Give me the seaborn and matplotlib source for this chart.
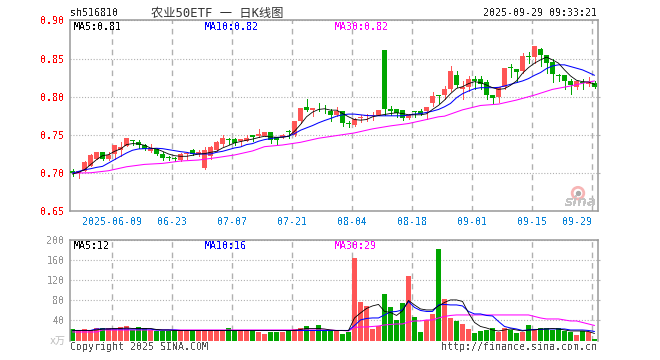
# %%
import matplotlib.pyplot as plt
import numpy as np
import pandas as pd
import seaborn as sns

# %% candles
opens = [.7031, .7000, .7031, .7097, .7184, .7281, .7184, .7246, .7307, .7360,
         .7426, .7413, .7369, .7294, .7316, .7255, .7198, .7184, .7167, .7246,
         .7307, .7246, .7070, .7228, .7307, .7386, .7430, .7452, .7421, .7426,
         .7505, .7492, .7491, .7543, .7473, .7469, .7539, .7504, .7684, .7860,
         .7820, .7846, .7846, .7807, .7754, .7807, .7649, .7636, .7720, .7745,
         .7750, .7763, .8610, .7842, .7833, .7820, .7719, .7802, .7807, .7807,
         .7912, .8009, .8017, .8096, .8280, .8105, .8122, .8237, .8237, .8197,
         .8017, .8000, .8131, .8373, .8360, .8333, .8518, .8522, .8623, .8544,
         .8460, .8276, .8280, .8201, .8122, .8175, .8171, .8184]
closes = [.7000, .7031, .7149, .7233, .7281, .7184, .7241, .7364, .7342, .7457,
          .7426, .7373, .7320, .7329, .7255, .7202, .7198, .7184, .7255, .7263,
          .7255, .7281, .7307, .7347, .7413, .7457, .7430, .7395, .7452, .7461,
          .7470, .7518, .7543, .7429, .7438, .7495, .7539, .7688, .7855, .7820,
          .7855, .7846, .7846, .7754, .7816, .7653, .7649, .7710, .7723, .7759,
          .7767, .7820, .7833, .7811, .7789, .7719, .7763, .7802, .7776, .7860,
          .8009, .8009, .8096, .8333, .8149, .8131, .8237, .8201, .8162, .8017,
          .7978, .8122, .8373, .8373, .8324, .8531, .8518, .8662, .8544, .8447,
          .8298, .8276, .8201, .8149, .8201, .8175, .8197, .8122]
highs = [.7053, .7031, .7158, .7246, .7281, .7281, .7281, .7373, .7404, .7465,
         .7426, .7439, .7386, .7386, .7329, .7281, .7228, .7211, .7263, .7277,
         .7316, .7307, .7342, .7360, .7421, .7500, .7465, .7461, .7452, .7505,
         .7505, .7571, .7543, .7543, .7473, .7513, .7561, .7688, .7855, .7965,
         .7855, .7912, .7886, .7833, .7860, .7807, .7688, .7723, .7754, .7780,
         .7798, .7820, .8610, .7877, .7833, .7820, .7772, .7811, .7833, .7860,
         .8061, .8018, .8140, .8399, .8333, .8201, .8272, .8272, .8272, .8215,
         .8017, .8131, .8373, .8425, .8360, .8570, .8579, .8662, .8640, .8544,
         .8500, .8294, .8280, .8237, .8201, .8237, .8263, .8206]
lows = [.6965, .6939, .7022, .7088, .7184, .7176, .7176, .7184, .7220, .7351,
        .7373, .7334, .7307, .7281, .7237, .7176, .7176, .7154, .7158, .7184,
        .7237, .7228, .7057, .7184, .7285, .7351, .7386, .7369, .7360, .7417,
        .7417, .7474, .7482, .7394, .7385, .7456, .7460, .7482, .7658, .7807,
        .7745, .7807, .7789, .7688, .7745, .7622, .7601, .7622, .7675, .7688,
        .7701, .7754, .7767, .7767, .7737, .7701, .7710, .7737, .7754, .7710,
        .7877, .7912, .7964, .8074, .8131, .7973, .8074, .8096, .8096, .7973,
        .7899, .7929, .8105, .8263, .8193, .8316, .8447, .8447, .8403, .8316,
        .8193, .8201, .8105, .8035, .8096, .8105, .8140, .8114]

ma5 = [.6987, .7009, .7044, .7110, .7176, .7228, .7241, .7285, .7316, .7373,
       .7386, .7382, .7364, .7329, .7316, .7285, .7250, .7228, .7220, .7220,
       .7233, .7250, .7255, .7272, .7285, .7329, .7360, .7395, .7413, .7430,
       .7445, .7465, .7482, .7473, .7469, .7469, .7482, .7548, .7636, .7737,
       .7798, .7833, .7842, .7824, .7824, .7780, .7737, .7701, .7693, .7701,
       .7737, .7754, .7767, .7780, .7789, .7780, .7763, .7763, .7763, .7776,
       .7833, .7886, .7956, .8039, .8109, .8131, .8171, .8197, .8184, .8153,
       .8118, .8096, .8105, .8149, .8206, .8307, .8381, .8439, .8482, .8518,
       .8482, .8439, .8351, .8272, .8215, .8197, .8193, .8162]
ma10 = [.7000, .7022, .7044, .7057, .7075, .7088, .7132, .7176, .7220, .7263,
        .7299, .7316, .7320, .7320, .7325, .7320, .7307, .7294, .7281, .7272,
        .7255, .7250, .7250, .7250, .7272, .7285, .7307, .7329, .7342, .7373,
        .7386, .7417, .7438, .7451, .7464, .7473, .7482, .7517, .7561, .7592,
        .7622, .7658, .7688, .7715, .7745, .7763, .7772, .7772, .7763, .7754,
        .7750, .7750, .7750, .7750, .7750, .7750, .7759, .7772, .7780, .7794,
        .7811, .7833, .7868, .7912, .7986, .8039, .8074, .8105, .8118, .8118,
        .8118, .8122, .8140, .8162, .8184, .8206, .8237, .8280, .8316, .8368,
        .8403, .8417, .8417, .8395, .8373, .8351, .8316, .8280]
ma30_days = [0, 3, 6, 9, 12, 15, 18, 21, 24, 27, 30, 32, 35, 38, 41, 44, 47, 50,
             53, 56, 59, 61, 62, 65, 68, 71, 74, 77, 80, 83, 86, 87]
ma30 = [.7000, .7004, .7031, .7083, .7114, .7127, .7158, .7171, .7202, .7237,
        .7290, .7346, .7368, .7403, .7456, .7491, .7526, .7579, .7618, .7649,
        .7701, .7737, .7745, .7828, .7885, .7903, .7956, .8021, .8096, .8140,
        .8193, .8206]

volume = [23, 18, 23, 20, 25, 25, 25, 23, 27, 29,
          21, 27, 25, 21, 18, 19, 19, 21, 18, 18,
          19, 18, 18, 18, 18, 19, 25, 18, 20, 18,
          18, 16, 13, 17, 17, 17, 18, 23, 25, 29,
          21, 31, 21, 20, 18, 13, 16, 165, 77, 69,
          23, 28, 93, 67, 41, 75, 129, 47, 17, 41,
          53, 183, 83, 45, 39, 33, 23, 15, 19, 21,
          25, 17, 25, 21, 15, 17, 31, 23, 25, 25,
          21, 25, 19, 17, 11, 19, 17, 3]
vol_ma5 = [20, 20, 20, 20, 21, 23, 23, 24, 24, 25,
           24, 24, 24, 24, 22, 21, 21, 20, 20, 20,
           20, 20, 20, 20, 20, 20, 20, 20, 20, 20,
           20, 20, 20, 20, 20, 20, 20, 20, 22, 24,
           24, 24, 23, 21, 20, 20, 20, 45, 55, 64,
           69, 72, 58, 56, 50, 59, 80, 71, 63, 61,
           61, 69, 76, 81, 81, 78, 55, 36, 28, 25,
           21, 19, 21, 23, 21, 19, 21, 21, 23, 23,
           24, 23, 21, 19, 19, 19, 18, 14]
vol_ma10 = [20, 20, 20, 20, 23, 23, 23, 23, 23, 23,
            23, 23, 23, 23, 21, 21, 21, 21, 20, 20,
            20, 20, 20, 20, 20, 20, 20, 20, 20, 20,
            20, 20, 20, 20, 20, 20, 20, 20, 20, 20,
            20, 20, 20, 20, 20, 20, 20, 30, 41, 44,
            45, 45, 51, 57, 58, 61, 78, 66, 60, 58,
            58, 71, 72, 71, 71, 69, 58, 53, 53, 50,
            49, 38, 28, 25, 23, 20, 21, 22, 22, 23,
            23, 23, 23, 21, 21, 21, 20, 18]
vol_ma30 = [17, 17, 17, 17, 17, 21, 21, 21, 21, 21,
            21, 21, 21, 21, 21, 21, 21, 21, 21, 21,
            21, 21, 21, 21, 21, 21, 21, 21, 21, 21,
            21, 21, 21, 21, 21, 21, 21, 21, 21, 21,
            21, 21, 21, 21, 20, 20, 19, 26, 27, 27,
            28, 29, 31, 32, 33, 33, 37, 39, 39, 41,
            41, 45, 48, 50, 51, 51, 51, 51, 51, 51,
            51, 51, 51, 51, 51, 51, 51, 48, 45, 43,
            43, 43, 41, 39, 39, 36, 33, 30]

date_days = [7, 17, 27, 37, 47, 57, 67, 77, 87]
date_labels = ["2025-06-09", "06-23", "07-07", "07-21", "08-04", "08-18",
               "09-01", "09-15", "09-29"]
price_ticks = [0.65, 0.70, 0.75, 0.80, 0.85, 0.90]
vol_ticks = [40, 80, 120, 160, 200]

RED = "#ff5555"
GREEN = "#00a600"
FRAME = "#999999"
GRID = "#b0b0b0"
MONO = ["DejaVu Sans Mono", "Noto Sans CJK SC"]

# %%
sns.set_style("white")
plt.rcParams["font.family"] = MONO
plt.rcParams["font.size"] = 7.2
plt.rcParams["text.antialiased"] = False

W, H = 660, 360
fig = plt.figure(figsize=(W / 100, H / 100), dpi=100)
ax = fig.add_axes([70 / W, 1 - 211.3 / H, 527.5 / W, 191 / H])
ax_vol = fig.add_axes([70 / W, 1 - 340.5 / H, 527.5 / W, 100.2 / H])

days = np.arange(len(opens))
df = pd.DataFrame({"day": days, "open": opens, "close": closes, "high": highs,
                   "low": lows, "volume": volume})
df["up"] = df["close"] > df["open"]
colors = df["up"].map({True: RED, False: GREEN})

# %% candles
ax.vlines(df["day"], df["low"], df["high"], colors=colors, lw=0.7, zorder=2,
          antialiased=False)
body = (df["close"] - df["open"]).abs().clip(lower=0.0012)
ax.bar(df["day"], body, bottom=df[["open", "close"]].min(axis=1), width=0.84,
       color=colors, linewidth=0, zorder=3, antialiased=False)

sns.lineplot(x=ma30_days, y=ma30, color="#ff00ff", lw=0.75, ax=ax, zorder=4)
sns.lineplot(x=days, y=ma10, color="#0000ff", lw=0.75, ax=ax, zorder=5)
sns.lineplot(x=days, y=ma5, color="black", lw=0.6, ax=ax, zorder=6)

# %% volume
sns.barplot(df, x="day", y="volume", hue="up", palette={True: RED, False: GREEN},
            native_scale=True, dodge=False, width=0.84, saturation=1, linewidth=0,
            legend=False, errorbar=None, ax=ax_vol, zorder=2, antialiased=False)
sns.lineplot(x=days, y=vol_ma30, color="#ff00ff", lw=0.75, ax=ax_vol, zorder=4)
sns.lineplot(x=days, y=vol_ma10, color="#0000ff", lw=0.75, ax=ax_vol, zorder=5)
sns.lineplot(x=days, y=vol_ma5, color="black", lw=0.6, ax=ax_vol, zorder=6)

# %% axes
grid_x = [d - 0.42 for d in date_days]
for a in (ax, ax_vol):
    a.set_xlim(-0.42, 87.5)
    a.set_xlabel("")
    a.set_ylabel("")
    a.set_axisbelow(True)
    a.xaxis.grid(True, color=GRID, lw=1, ls=(0, (4, 3.5)))
    a.yaxis.grid(True, color=GRID, lw=0.8, ls=(0, (1, 1.6)))
    for side in ("left", "right", "top", "bottom"):
        a.spines[side].set_color(FRAME)
        a.spines[side].set_linewidth(1.1)
ax_vol.spines["bottom"].set_visible(False)

ax.set_ylim(0.65, 0.90)
ax.set_yticks(price_ticks, [f"{t:.2f}" for t in price_ticks], color="#ff0000")
ax.set_xticks(grid_x, date_labels, color="#0a84d8")
ax.get_xticklabels()[-1].set_ha("right")
ax.tick_params(length=0, pad=4)

ax_vol.set_ylim(0, 200)
ax_vol.set_yticks(vol_ticks, [str(t) for t in vol_ticks], color=FRAME)
ax_vol.set_xticks(grid_x, [""] * len(grid_x))
ax_vol.tick_params(length=0, pad=4)

# dotted rows stick out a little past the frame
ax.hlines(price_ticks[1:-1], 87.5, 87.85, color=GRID, lw=0.8, clip_on=False)
ax_vol.hlines(vol_ticks[:-1], 87.5, 87.85, color=GRID, lw=0.8, clip_on=False)

# %% texts
def put(x, y, s, color="black", ha="left", **kw):
    fig.text(x / W, 1 - y / H, s, color=color, ha=ha, va="center", **kw)


put(70, 13, "sh516810", "#222222")
put(151, 13, "农业50ETF 一 日K线图", "#333333", fontsize=8.8, antialiased=True)
put(597, 13, "2025-09-29 09:33:21", "#222222", ha="right")

put(74, 27, "MA5:0.81")
put(205, 27, "MA10:0.82", "#0000ff")
put(335, 27, "MA30:0.82", "#ff00ff")
put(74, 246, "MA5:12")
put(205, 246, "MA10:16", "#0000ff")
put(335, 246, "MA30:29", "#ff00ff")

put(66, 341, "x万", "#bbbbbb", ha="right", antialiased=True)
put(70, 346.5, "Copyright 2025 SINA.COM", "#555555")
put(597, 346.5, "http://finance.sina.com.cn", "#555555", ha="right")

# watermark
ax.scatter([0.963], [0.095], s=70, facecolors="none", edgecolors="#f7b5b5", lw=2,
           transform=ax.transAxes, zorder=1)
ax.scatter([0.963], [0.095], s=8, color="#aaaaaa", transform=ax.transAxes, zorder=1)
put(565, 202, "sina", "#c4c4c4", fontsize=10, fontweight="bold", style="italic",
    family="DejaVu Sans")

fig.savefig("out.png", dpi=100)
